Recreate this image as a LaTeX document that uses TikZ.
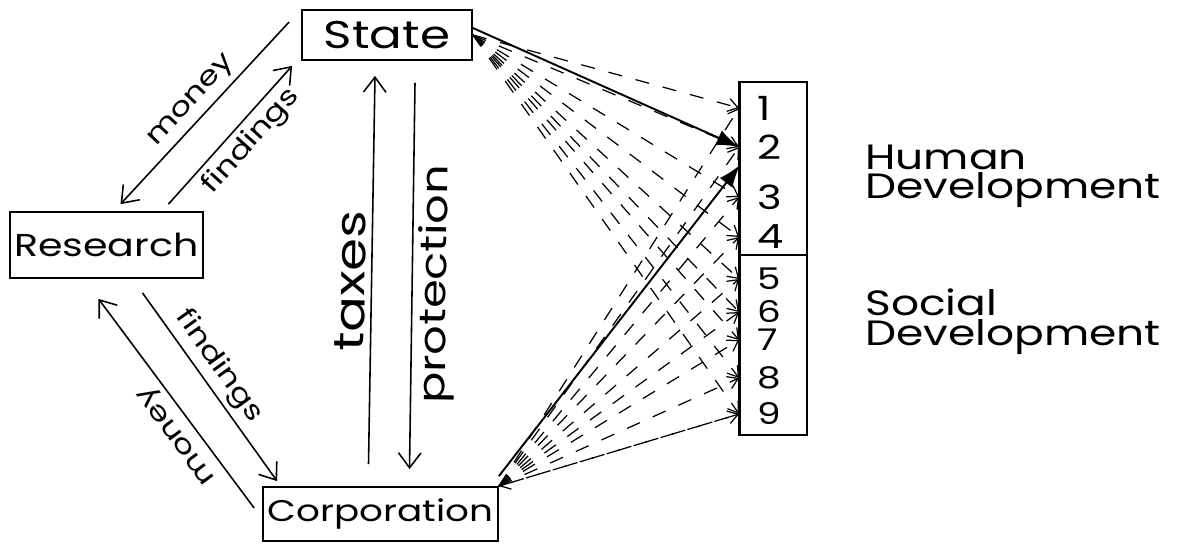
\documentclass[tikz,border=0pt]{standalone}
\usepackage{fontspec}
\setmainfont{Poppins}[FakeStretch=1.25]
\usetikzlibrary{arrows.meta}
\newcommand{\fsz}[1]{\fontsize{#1}{#1}\selectfont}
\tikzset{box/.style={draw=black,line width=1pt,inner sep=0pt,font=\fsz{20}},arrow/.style={-{Straight Barb[length=3mm,width=4.5mm]},line width=0.9pt},bold/.style={-{Latex[length=4.5mm,width=3.2mm]},line width=1.1pt},fan/.style={-{Straight Barb[length=2mm,width=2.6mm]},line width=0.7pt,dash pattern=on 8pt off 8pt},lab/.style={sloped,inner sep=3pt,font=\fsz{15}},num/.style={anchor=west,inner sep=0pt,font=\fsz{19}},side/.style={anchor=base west,align=left,inner sep=0pt,font=\fontsize{20}{17}\selectfont}}
\begin{document}
\begin{tikzpicture}
\useasboundingbox (0,0) rectangle (23.56,-10.92);
\node[box,minimum width=3.4cm,minimum height=1cm,font=\fsz{22}] (state) at (7.74,-0.7) {State};
\node[box,minimum width=3.86cm,minimum height=1.32cm,font=\fsz{18}] (research) at (2.13,-4.9) {Research};
\node[box,minimum width=4.7cm,minimum height=1.08cm,font=\fsz{17}] (corp) at (7.61,-10.28) {Corporation};
\node[box,minimum width=1.34cm,minimum height=3.46cm] (hum) at (15.47,-3.37) {};
\node[box,minimum width=1.34cm,minimum height=3.6cm] (soc) at (15.47,-6.9) {};
\draw[line width=1.6pt] (hum.north west) -- (soc.south west);
\foreach \i/\y in {1/-2.16,2/-2.94,3/-3.94,4/-4.74}{\node[num] (n\i) at (15.14,\y) {\i};}
\foreach \i/\y in {5/-5.58,6/-6.24,7/-6.8,8/-7.56,9/-8.28}{\node[num,font=\fsz{17}] (n\i) at (15.14,\y) {\i};}
\node[side] (humlab) at (17.3,-3.98) {Human\\Development};
\node[side] (soclab) at (17.3,-6.9) {Social\\Development};
\coordinate (hit) at (14.8,-3.3);
\draw[arrow] ([shift={(-0.24,0.26)}]state.west) -- node[lab,above,pos=0.5]{money} ([shift={(0.28,0.14)}]research.north);
\draw[arrow] ([shift={(1.24,0.14)}]research.north) -- node[lab,below,pos=0.55]{findings} ([shift={(-0.18,-0.1)}]state.south west);
\draw[arrow] ([shift={(-0.16,0.12)}]corp.west) -- node[lab,above,allow upside down,pos=0.4]{money} ([shift={(-0.16,-0.4)}]research.south);
\draw[arrow] ([shift={(0.72,-0.28)}]research.south) -- node[lab,above,pos=0.45]{findings} ([shift={(0.3,0.1)}]corp.north west);
\draw[arrow] ([shift={(-0.24,0.44)}]corp.north) -- node[lab,above,font=\fsz{24},pos=0.47]{taxes} ([shift={(-0.24,-0.3)}]state.south);
\draw[arrow] ([shift={(0.56,-0.44)}]state.south) -- node[lab,below,font=\fsz{21},pos=0.52]{protection} ([shift={(0.58,0.34)}]corp.north);
\foreach \i in {1,...,9}{\draw[fan] (state.east) -- (hum.west |- n\i);\draw[fan] (corp.north east) -- (hum.west |- n\i);}
\draw[fan] (hum.west |- n9) -- (corp.north east);
\draw[bold] ([yshift=0.14cm]state.east) -- (hum.west |- n2);
\draw[bold] ([yshift=0.2cm]corp.north east) -- (hit);
\end{tikzpicture}
\end{document}
